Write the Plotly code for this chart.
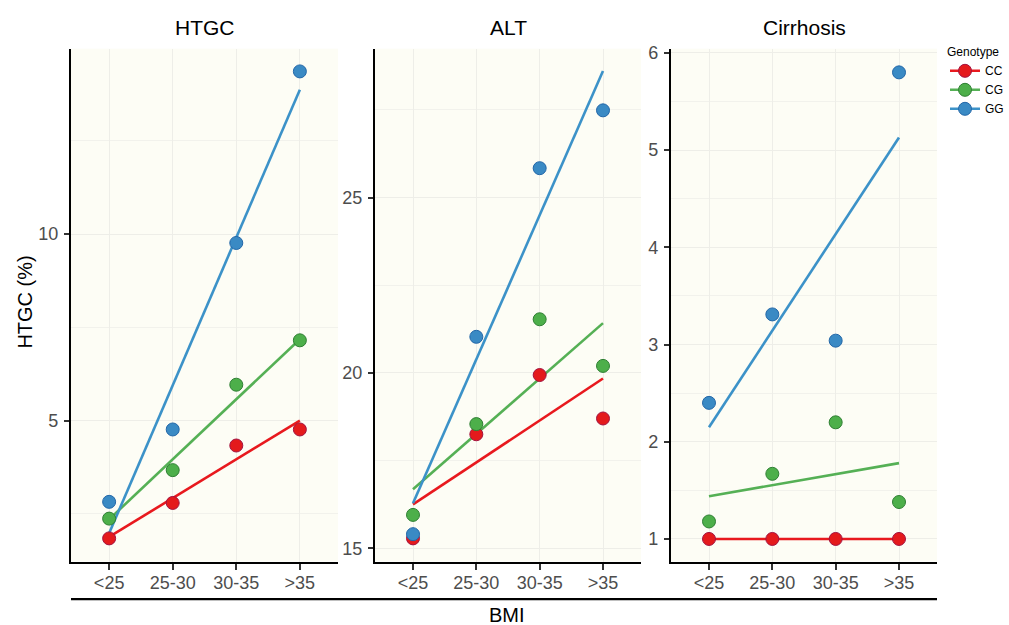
import plotly.graph_objects as go

W, H = 1009, 625

categories = ["<25", "25-30", "30-35", ">35"]
genotypes = ["CC", "CG", "GG"]
panels = ["HTGC", "ALT", "Cirrhosis"]

# point values (means) per panel, per genotype
htgc_cc = [1.84, 2.79, 4.33, 4.76]
htgc_cg = [2.37, 3.67, 5.96, 7.15]
htgc_gg = [2.82, 4.76, 9.76, 14.36]

alt_cc = [15.28, 18.25, 19.94, 18.70]
alt_cg = [15.95, 18.54, 21.53, 20.20]
alt_gg = [15.40, 21.03, 25.84, 27.49]

cir_cc = [1.0, 1.0, 1.0, 1.0]
cir_cg = [1.18, 1.67, 2.20, 1.38]
cir_gg = [2.40, 3.31, 3.04, 5.80]

# fitted trend line values at "<25" and ">35", order CC, CG, GG
htgc_fit_start = [1.88, 2.35, 1.98]
htgc_fit_end = [5.00, 7.18, 13.87]
alt_fit_start = [16.25, 16.68, 16.28]
alt_fit_end = [19.84, 21.42, 28.61]
cir_fit_start = [1.00, 1.44, 2.15]
cir_fit_end = [1.00, 1.78, 5.13]

fill_colors = ["#E41A1C", "#4DAF4A", "#3A8AC4"]
edge_colors = ["#A3123F", "#2F7F33", "#2367A8"]
line_colors = ["#E8191E", "#55B055", "#3C92C8"]

panel_data = [
    ([htgc_cc, htgc_cg, htgc_gg], htgc_fit_start, htgc_fit_end),
    ([alt_cc, alt_cg, alt_gg], alt_fit_start, alt_fit_end),
    ([cir_cc, cir_cg, cir_gg], cir_fit_start, cir_fit_end),
]

# layout geometry (pixels)
x_dom_px = [(71, 338), (375, 641), (671, 937)]
y_dom_px = (44, 561)
y_ranges = [(1.22, 14.97), (14.62, 29.25), (0.768, 6.044)]
y_dticks = [5, 5, 1]

fig = go.Figure()

for p, (vals, fs, fe) in enumerate(panel_data):
    xa = "x" if p == 0 else f"x{p+1}"
    ya = "y" if p == 0 else f"y{p+1}"
    for g in range(3):
        fig.add_trace(go.Scatter(
            x=[categories[0], categories[-1]], y=[fs[g], fe[g]],
            mode="lines", line=dict(color=line_colors[g], width=2.6),
            xaxis=xa, yaxis=ya, showlegend=False, hoverinfo="skip",
            legendgroup=genotypes[g]))
    for g in range(3):
        fig.add_trace(go.Scatter(
            x=categories, y=vals[g], mode="markers",
            marker=dict(size=13, color=fill_colors[g],
                        line=dict(color=edge_colors[g], width=1)),
            xaxis=xa, yaxis=ya, showlegend=False, name=genotypes[g],
            legendgroup=genotypes[g]))

# legend entries
for g in range(3):
    fig.add_trace(go.Scatter(
        x=[None], y=[None], mode="lines+markers", name=genotypes[g],
        line=dict(color=line_colors[g], width=2.6),
        marker=dict(size=13, color=fill_colors[g],
                    line=dict(color=edge_colors[g], width=1)),
        showlegend=True, legendgroup=genotypes[g]))

layout = dict(
    width=W, height=H,
    margin=dict(l=0, r=0, t=0, b=0),
    paper_bgcolor="white",
    plot_bgcolor="#FDFDF5",
    font=dict(family="Liberation Sans, Arial, sans-serif", color="#000000"),
    showlegend=True,
    legend=dict(
        x=945 / W, y=1 - 36 / H, xanchor="left", yanchor="top",
        title=dict(text="Genotype", font=dict(size=12, color="#000")),
        font=dict(size=12, color="#000"),
        bgcolor="rgba(0,0,0,0)", itemwidth=30, tracegroupgap=0,
    ),
)

for p in range(3):
    xk = "xaxis" if p == 0 else f"xaxis{p+1}"
    yk = "yaxis" if p == 0 else f"yaxis{p+1}"
    ysuf = "y" if p == 0 else f"y{p+1}"
    xsuf = "x" if p == 0 else f"x{p+1}"
    x0, x1 = x_dom_px[p]
    layout[xk] = dict(
        domain=[x0 / W, x1 / W], anchor=ysuf,
        type="category", categoryorder="array", categoryarray=categories,
        range=[-0.6, 3.6],
        showline=True, linecolor="#000000", linewidth=2.2,
        ticks="outside", ticklen=6, tickwidth=2, tickcolor="#333333",
        tickfont=dict(size=18, color="#4D4D4D"), ticklabelstandoff=-2,
        showgrid=True, gridcolor="#EEEEE8", gridwidth=1,
        zeroline=False, fixedrange=True,
    )
    ylo, yhi = y_ranges[p]
    layout[yk] = dict(
        domain=[1 - y_dom_px[1] / H, 1 - y_dom_px[0] / H], anchor=xsuf,
        range=[ylo, yhi], dtick=y_dticks[p], tick0=0,
        showline=True, linecolor="#000000", linewidth=2.2,
        ticks="outside", ticklen=5, tickwidth=2, tickcolor="#333333",
        tickfont=dict(size=18, color="#4D4D4D"), ticklabelstandoff=2,
        showgrid=True, gridcolor="#EEEEE8", gridwidth=1,
        minor=dict(dtick=y_dticks[p] / 2, tick0=0, showgrid=True,
                   gridcolor="#F2F2EC", gridwidth=1, ticks=""),
        zeroline=False, fixedrange=True,
    )

annotations = []
for p, name in enumerate(panels):
    x0, x1 = x_dom_px[p]
    annotations.append(dict(
        text=name, x=(x0 + x1) / 2 / W, y=1 - 23 / H, xref="paper", yref="paper",
        xanchor="center", yanchor="middle", showarrow=False,
        font=dict(size=21, color="#000")))
annotations.append(dict(
    text="HTGC (%)", x=25 / W, y=1 - 300 / H, xref="paper", yref="paper",
    textangle=-90, xanchor="center", yanchor="middle", showarrow=False,
    font=dict(size=20, color="#000")))
annotations.append(dict(
    text="BMI", x=507 / W, y=1 - 615 / H, xref="paper", yref="paper",
    xanchor="center", yanchor="middle", showarrow=False,
    font=dict(size=20, color="#000")))
layout["annotations"] = annotations
layout["shapes"] = [dict(
    type="line", xref="paper", yref="paper",
    x0=71 / W, x1=937 / W, y0=1 - 599 / H, y1=1 - 599 / H,
    line=dict(color="#000000", width=2.2))]

fig.update_layout(**layout)
fig.write_html("out.html")
